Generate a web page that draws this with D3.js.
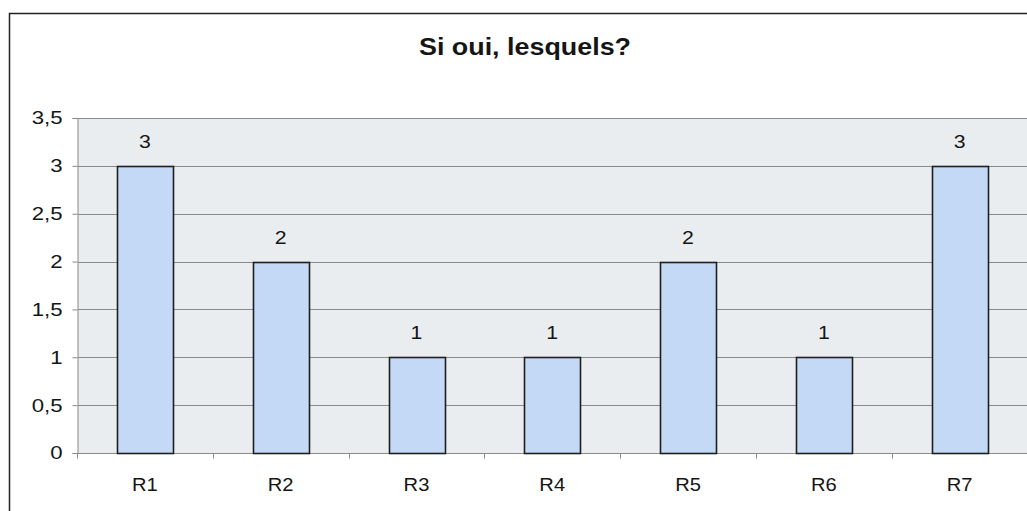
<!DOCTYPE html>
<html><head><meta charset="utf-8">
<script src="https://cdn.jsdelivr.net/npm/d3@7"></script>
<style>body{margin:0;background:#fff}text{font-family:"Liberation Sans",Arial,sans-serif;fill:#151515}</style>
</head><body><svg id="c" width="1027" height="511"></svg>
<script>
const categories=["R1","R2","R3","R4","R5","R6","R7"];
const values=[3,2,1,1,2,1,3];
const yTicks=[0,0.5,1,1.5,2,2.5,3,3.5];
const title="Si oui, lesquels?";

const svg=d3.select("#c");
const W=1027,H=511;
const SX=1.12;
function stretch(sel,s){s=s||SX;sel.each(function(){const t=d3.select(this);const xv=+t.attr("x")||0;t.attr("x",xv/s).attr("transform",`scale(${s},1)`);});}
svg.append("rect").attr("x",9.5).attr("y",13.5).attr("width",W+20).attr("height",H+20).attr("fill","#fff").attr("stroke","#222").attr("stroke-width",1.5);
const m={l:77};
const x=d3.scaleBand().domain(categories).range([m.l,W+0.5]).paddingInner(0.59).paddingOuter(0.295);
const y=d3.scaleLinear().domain([0,3.5]).range([453,118]);
const fmt=d=>String(d).replace(".",",");
svg.append("rect").attr("x",m.l+1).attr("y",118).attr("width",W-m.l).attr("height",453-118).attr("fill","#eaedef");
svg.append("g").selectAll("line").data(yTicks.filter(d=>d>0)).join("line")
 .attr("x1",m.l+1).attr("x2",W).attr("y1",d=>Math.round(y(d))+0.5).attr("y2",d=>Math.round(y(d))+0.5).attr("stroke","#8a8a8a").attr("stroke-width",1);
const yAxis=svg.append("g").attr("transform",`translate(${m.l+0.5},0)`).call(d3.axisLeft(y).tickValues(yTicks).tickFormat(fmt).tickSize(5).tickPadding(10));
yAxis.select(".domain").attr("stroke","#8a8a8a");
yAxis.selectAll(".tick line").attr("stroke","#8a8a8a");
yAxis.selectAll("text").attr("font-size",18.5).style("font-family","Liberation Sans, Arial, sans-serif").attr("fill","#1a1a1a").call(stretch,1.2);
const band=x.step();
const xAxis=svg.append("g").attr("transform",`translate(0,${453.5})`);
xAxis.append("line").attr("x1",m.l).attr("x2",W).attr("stroke","#8a8a8a");
xAxis.selectAll("line.tk").data(d3.range(categories.length+1)).join("line").attr("class","tk")
 .attr("x1",i=>Math.round(x(categories[0])+(i*band)-(band-x.bandwidth())/2)+0.5)
 .attr("x2",i=>Math.round(x(categories[0])+(i*band)-(band-x.bandwidth())/2)+0.5)
 .attr("y1",0).attr("y2",5).attr("stroke","#8a8a8a");
xAxis.selectAll("text").data(categories).join("text").attr("x",d=>x(d)+x.bandwidth()/2).attr("y",37.5)
 .attr("text-anchor","middle").attr("font-size",18).text(d=>d).call(stretch);
svg.append("g").selectAll("rect").data(values).join("rect")
 .attr("x",(d,i)=>Math.round(x(categories[i]))+0.5).attr("width",Math.round(x.bandwidth()))
 .attr("y",d=>Math.round(y(d))+0.5).attr("height",d=>Math.round(y(0))-Math.round(y(d)))
 .attr("fill","#c4d9f6").attr("stroke","#1e1e1e").attr("stroke-width",1.6);
svg.append("g").selectAll("text").data(values).join("text")
 .attr("x",(d,i)=>x(categories[i])+x.bandwidth()/2).attr("y",d=>y(d)-18)
 .attr("text-anchor","middle").attr("font-size",19).text(d=>fmt(d)).call(stretch);
svg.append("text").attr("x",525).attr("y",55).attr("text-anchor","middle").attr("font-size",24).attr("font-weight","bold").text(title).call(stretch);
</script></body></html>
